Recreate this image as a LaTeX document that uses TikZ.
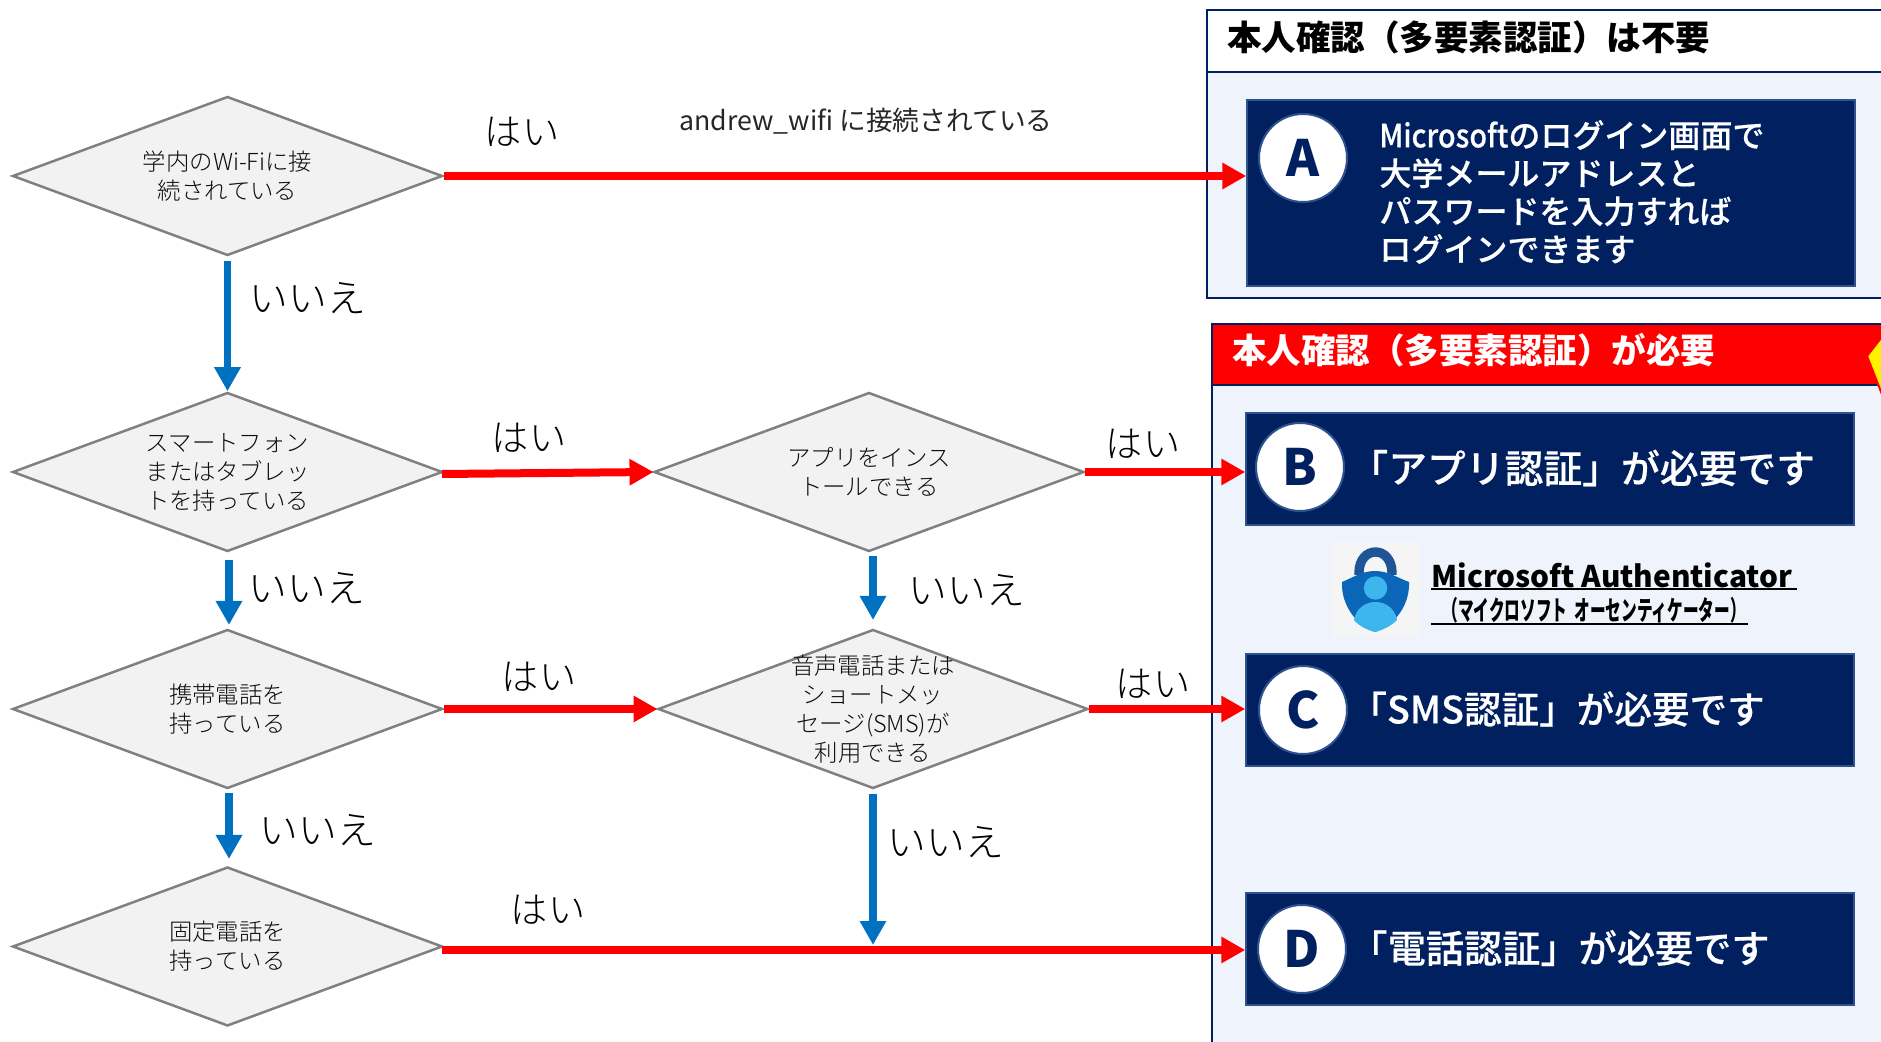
\documentclass[tikz,border=0pt]{standalone}
\usepackage{fontspec}
\setmainfont{Noto Sans CJK JP}
\newfontfamily\mediumfont[FakeBold=0.4]{Noto Sans CJK JP Medium}
\newfontfamily\lightfont{Noto Sans CJK JP Light}
\usetikzlibrary{shapes.geometric,arrows.meta}
\definecolor{navy}{HTML}{002060}
\definecolor{boxedge}{HTML}{2F528F}
\definecolor{panelfill}{HTML}{EFF4FC}
\definecolor{noblue}{HTML}{0070C0}
\definecolor{iconlight}{HTML}{3DB6EE}
\definecolor{iconshield}{HTML}{0C66B8}
\definecolor{iconlock}{HTML}{1F5596}
\tikzset{
	decision/.style={diamond,draw=black!50,fill=black!5,line width=1.25pt,aspect=2.7,inner sep=0pt,minimum width=215pt,minimum height=79.5pt,align=center,text=black!95,font=\lightfont\fontsize{11.7}{14.5}\selectfont},
	yesline/.style={draw=red,line width=4pt,shorten >=-0.4pt,-{Triangle[length=12pt,width=12.5pt]}},
	noline/.style={draw=noblue,line width=3.8pt,-{Triangle[length=12pt,width=12.5pt]}},
	yeslabel/.style={font=\lightfont\fontsize{18.6}{22}\selectfont,text=black},
	nolabel/.style={font=\lightfont\fontsize{19.4}{22}\selectfont,text=black},
	answerbox/.style={rectangle,draw=boxedge,fill=navy,line width=1pt,minimum width=304pt,minimum height=56pt},
	answermark/.style={circle,draw=boxedge,fill=white,line width=1pt,inner sep=0pt,minimum size=44pt,text=navy,font=\fontsize{25}{30}\selectfont\bfseries},
	answertext/.style={anchor=west,text=white,align=left,inner sep=0pt,font=\mediumfont\fontsize{19.4}{22}\selectfont},
	paneltitle/.style={anchor=west,inner sep=0pt,font=\fontsize{17.25}{20}\selectfont\bfseries}
}
\begin{document}
\begin{tikzpicture}[x=0.5pt,y=-0.5pt]
	\useasboundingbox (0,0) rectangle (1881,1042);
	\clip (0,0) rectangle (1881,1042);
	% panels on the right
	\filldraw[draw=navy,fill=panelfill,line width=1.25pt] (1207,10) rectangle (1900,298);
	\filldraw[draw=navy,fill=white,line width=1.25pt] (1207,10) rectangle (1900,72);
	\filldraw[draw=navy,fill=panelfill,line width=1.25pt] (1212,324) rectangle (1900,1060);
	\filldraw[draw=navy,fill=red,line width=1.25pt] (1212,324) rectangle (1900,385);
	\filldraw[draw=red,fill=yellow,line width=1pt] (1895,320) -- (1867,356) -- (1885,402) -- (1895,402) -- cycle;
	\node[paneltitle] (titlefree) at (1227,37) {本人確認（多要素認証）は不要};
	\node[paneltitle,text=white] (titleneed) at (1232,350) {本人確認（多要素認証）が必要};

	\node[answerbox,minimum height=93pt] (boxa) at (1550.5,193) {};
	\node[answerbox] (boxb) at (1549.5,469) {};
	\node[answerbox] (boxc) at (1549.5,710) {};
	\node[answerbox] (boxd) at (1549.5,949) {};
	\node[answermark] (marka) at (1303,158) {A};
	\node[answermark] (markb) at (1300,467) {B};
	\node[answermark] (markc) at (1303,710) {C};
	\node[answermark] (markd) at (1302,949) {D};
	\node[answertext,font=\mediumfont\fontsize{16}{19}\selectfont] (texta) at (1379,192) {\scalebox{0.9}[1]{Microsoft}のログイン画面で\\大学メールアドレスと\\パスワードを入力すれば\\ログインできます};
	\node[answertext] (textb) at (1349,468) {「アプリ認証」が必要です};
	\node[answertext,font=\mediumfont\fontsize{18.8}{22}\selectfont] (textc) at (1349,709) {「SMS認証」が必要です};
	\node[answertext,font=\mediumfont\fontsize{19.1}{22}\selectfont] (textd) at (1349,948) {「電話認証」が必要です};

	% authenticator icon
	\fill[black!4] (1331,542) rectangle (1420,637);
	\draw[draw=iconlock,line width=4.7pt] (1359,575) -- (1359,573) .. controls (1359,545) and (1392,545) .. (1392,573) -- (1392,575);
	\path[fill=iconshield] (1342,582) .. controls (1352,578) and (1362,571) .. (1375,571) .. controls (1388,571) and (1398,578) .. (1409,582) .. controls (1410,605) and (1395,625) .. (1375,632) .. controls (1356,625) and (1341,605) .. (1342,582) -- cycle;
	\fill[iconlight] (1375.5,588) circle (11.7);
	\path[fill=iconlight] (1354,620) .. controls (1358,596) and (1393,596) .. (1397,620) .. controls (1391,626) and (1383,630) .. (1375,632) .. controls (1367,630) and (1359,626) .. (1354,620) -- cycle;
	\node[anchor=west,inner sep=0pt,font=\fontsize{14.9}{18}\selectfont\bfseries] (appname) at (1431,575) {Microsoft Authenticator};
	\node[anchor=west,inner sep=0pt,font=\fontsize{13.5}{16}\selectfont\bfseries] (appkana) at (1442,610) {\scalebox{0.58}[1]{（マイクロソフト\ \ オーセンティケーター）}};
	\coordinate (nameline) at (1431,589);
	\coordinate (kanaline) at (1431,624);
	\draw[line width=0.8pt] (nameline) -- ++(366,0);
	\draw[line width=0.8pt] (kanaline) -- ++(317,0);

	% the questions
	\node[decision] (wifi) at (227.5,176) {学内のWi-Fiに接\\続されている};
	\node[decision] (smart) at (227.5,472) {スマートフォン\\またはタブレッ\\トを持っている};
	\node[decision] (mobile) at (227.5,709) {携帯電話を\\持っている};
	\node[decision] (fixed) at (227.5,946.5) {固定電話を\\持っている};
	\node[decision] (app) at (869,472) {アプリをインス\\トールできる};
	\node[decision] (sms) at (873,709) {};
	\node[align=center,inner sep=0pt,text=black!95,font=\lightfont\fontsize{11.7}{14.5}\selectfont] (smstext) at (873,709) {音声電話または\\ショートメッ\\セージ(SMS)が\\利用できる};

	% yes
	\coordinate (smartout) at (442,474);
	\coordinate (fixedout) at (442,950);
	\draw[yesline] (wifi.east) -- (wifi.east -| boxa.west);
	\draw[yesline] (smartout) -- (app.west);
	\draw[yesline] (app.east) -- (app.east -| boxb.west);
	\draw[yesline] (mobile.east) -- (sms.west);
	\draw[yesline] (sms.east) -- (sms.east -| boxc.west);
	\draw[yesline] (fixedout) -- (fixedout -| boxd.west);

	% no
	\coordinate (appdown) at (873,556);
	\coordinate (append) at (873,620);
	\coordinate (smsend) at (873,945);
	\coordinate (smartdown) at (229,560);
	\coordinate (mobileend) at (229,625);
	\coordinate (mobiledown) at (229,793);
	\coordinate (fixedend) at (229,859);
	\draw[noline,shorten <=2pt] (wifi.south) -- (smart.north);
	\draw[noline] (smartdown) -- (mobileend);
	\draw[noline] (mobiledown) -- (fixedend);
	\draw[noline] (appdown) -- (append);
	\draw[noline,shorten <=2pt] (sms.south) -- (smsend);

	\node[yeslabel] (yeswifi) at (522,132) {はい};
	\node[yeslabel] (yessmart) at (529,438) {はい};
	\node[yeslabel] (yesapp) at (1143,444) {はい};
	\node[yeslabel] (yesmobile) at (539,677) {はい};
	\node[yeslabel] (yessms) at (1153,684) {はい};
	\node[yeslabel] (yesfixed) at (548,910) {はい};
	\node[nolabel] (nowifi) at (308,298) {いいえ};
	\node[nolabel] (nosmart) at (307,588) {いいえ};
	\node[nolabel] (noapp) at (967,590) {いいえ};
	\node[nolabel] (nomobile) at (318,830) {いいえ};
	\node[nolabel] (nosms) at (946,842) {いいえ};
	\node[font=\fontsize{13.35}{16}\selectfont,text=black!85] (ssid) at (866,121) {andrew\_wifi に接続されている};
\end{tikzpicture}
\end{document}
